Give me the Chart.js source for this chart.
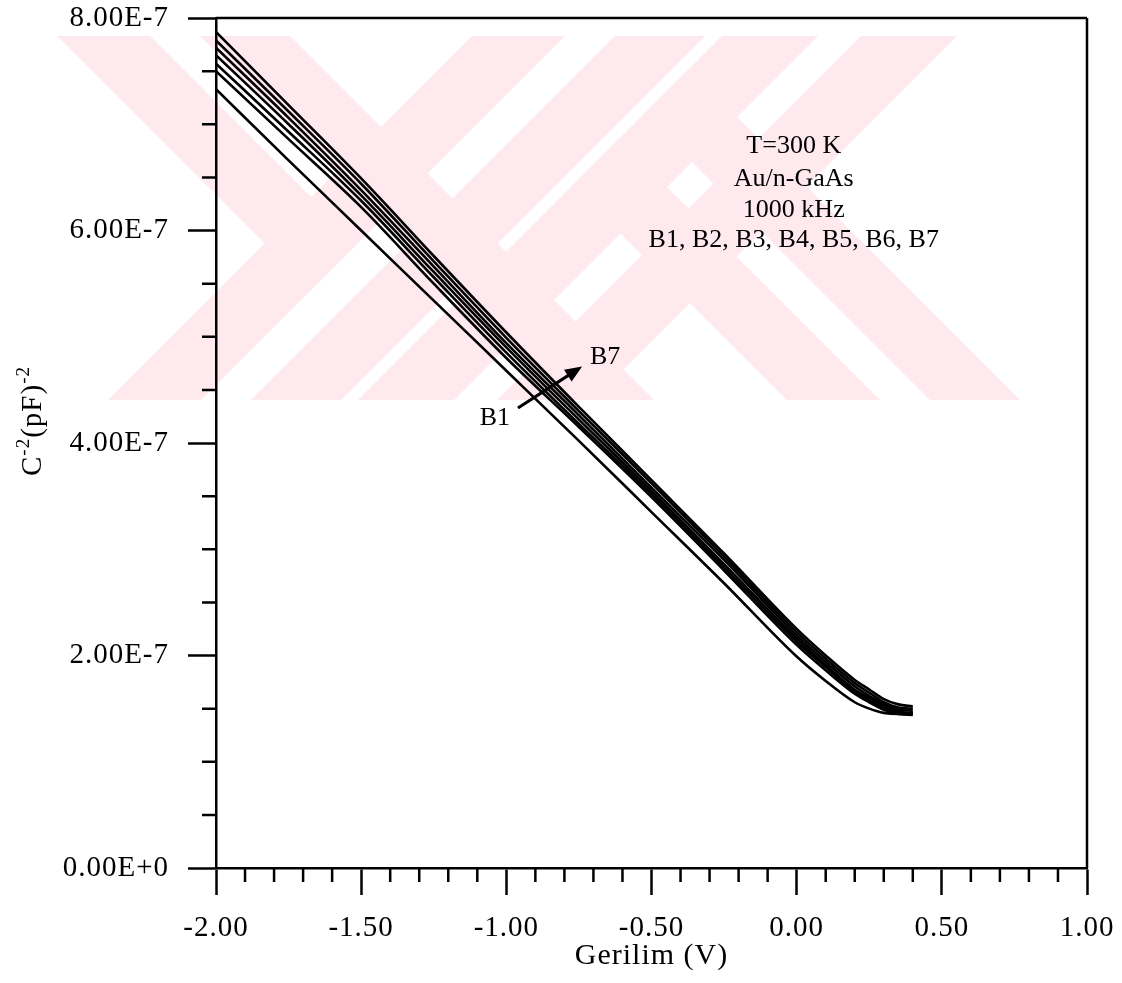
<!DOCTYPE html>
<html><head><meta charset="utf-8">
<script src="https://cdn.jsdelivr.net/npm/chart.js@4.4.1/dist/chart.umd.min.js"></script>
<style>html,body{margin:0;padding:0;background:#fff}canvas{display:block}</style>
</head><body>
<canvas id="c" width="1122" height="983"></canvas>
<script>
// ---- data ----
const voltage = [-2.00,-1.75,-1.50,-1.25,-1.00,-0.75,-0.50,-0.25,0.00,0.10,0.20,0.25,0.30,0.35,0.40];
const B1 = [7.33e-7,6.66e-7,6.00e-7,5.34e-7,4.68e-7,4.02e-7,3.35e-7,2.68e-7,1.99e-7,1.76e-7,1.56e-7,1.50e-7,1.46e-7,1.45e-7,1.46e-7];
const B2 = [7.50e-7,6.86e-7,6.22e-7,5.50e-7,4.80e-7,4.15e-7,3.49e-7,2.80e-7,2.10e-7,1.86e-7,1.64e-7,1.56e-7,1.49e-7,1.45e-7,1.44e-7];
const B3 = [7.57e-7,6.93e-7,6.28e-7,5.56e-7,4.85e-7,4.18e-7,3.52e-7,2.83e-7,2.13e-7,1.89e-7,1.66e-7,1.58e-7,1.50e-7,1.46e-7,1.45e-7];
const B4 = [7.65e-7,7.00e-7,6.33e-7,5.61e-7,4.90e-7,4.22e-7,3.55e-7,2.86e-7,2.16e-7,1.91e-7,1.68e-7,1.60e-7,1.52e-7,1.47e-7,1.46e-7];
const B5 = [7.72e-7,7.06e-7,6.38e-7,5.66e-7,4.94e-7,4.26e-7,3.58e-7,2.90e-7,2.19e-7,1.94e-7,1.71e-7,1.62e-7,1.54e-7,1.49e-7,1.48e-7];
const B6 = [7.79e-7,7.12e-7,6.44e-7,5.71e-7,4.99e-7,4.30e-7,3.62e-7,2.93e-7,2.22e-7,1.97e-7,1.74e-7,1.65e-7,1.56e-7,1.51e-7,1.50e-7];
const B7 = [7.87e-7,7.18e-7,6.49e-7,5.76e-7,5.04e-7,4.34e-7,3.65e-7,2.96e-7,2.25e-7,2.00e-7,1.77e-7,1.68e-7,1.59e-7,1.54e-7,1.52e-7];
const seriesNames = ['B1','B2','B3','B4','B5','B6','B7'];
const seriesValues = [B1,B2,B3,B4,B5,B6,B7];

const xTickLabels = ['-2.00','-1.50','-1.00','-0.50','0.00','0.50','1.00'];
const yTickLabels = ['0.00E+0','2.00E-7','4.00E-7','6.00E-7','8.00E-7'];
const xMinorTicks = [-1.9,-1.8,-1.7,-1.6,-1.4,-1.3,-1.2,-1.1,-0.9,-0.8,-0.7,-0.6,-0.4,-0.3,-0.2,-0.1,0.1,0.2,0.3,0.4,0.6,0.7,0.8,0.9];
const yMinorTicks = [0.5e-7,1.0e-7,1.5e-7,2.5e-7,3.0e-7,3.5e-7,4.5e-7,5.0e-7,5.5e-7,6.5e-7,7.0e-7,7.5e-7];

const xTitle = 'Gerilim (V)';
const yTitleParts = [['C',false],['-2',true],['(pF)',false],['-2',true]];
const infoLines = ['T=300 K','Au/n-GaAs','1000 kHz','B1, B2, B3, B4, B5, B6, B7'];
const infoX = -0.01;
const infoY = [6.79e-7,6.48e-7,6.19e-7,5.91e-7];
const arrowFrom = {x:-0.96, y:4.33e-7};
const arrowTo = {x:-0.739, y:4.72e-7};
const labelB7 = {text:'B7', x:-0.712, y:4.81e-7};
const labelB1 = {text:'B1', x:-0.987, y:4.235e-7};

const SERIF = '"Liberation Serif", "Times New Roman", serif';
const SPACING = '1px';

// ---- page watermark (decorative background, page pixels) ----
const WM_COLOR = '#fde9ee';
const WM_BAND = [36, 400];
const WM_SHAPES = [
  [[57,36],[150,36],[357.5,243.5],[311,290]],
  [[200,36],[290,36],[654,400],[564,400]],
  [[472,36],[565,36],[201,400],[108,400]],
  [[615,36],[705,36],[341,400],[251,400]],
  [[722,36],[818,36],[454,400],[358,400]],
  [[861,36],[957,36],[593,400],[497,400]],
  [[572.5,185.5],[619,139],[880,400],[787,400]],
  [[644,114],[689,69],[1020,400],[930,400]]
];

// ---- plugins ----
const watermark = {
  id:'watermark',
  beforeDraw(chart){
    const ctx = chart.ctx;
    ctx.save();
    ctx.beginPath(); ctx.rect(0,WM_BAND[0],chart.width,WM_BAND[1]-WM_BAND[0]); ctx.clip();
    ctx.fillStyle = WM_COLOR;
    WM_SHAPES.forEach(p=>{ctx.beginPath(); p.forEach(([a,b],i)=> i?ctx.lineTo(a,b):ctx.moveTo(a,b)); ctx.closePath(); ctx.fill();});
    ctx.restore();
  }
};

const spacingPlugin = {
  id:'spacing',
  beforeLayout(chart){ chart.ctx.letterSpacing = SPACING; },
  beforeDraw(chart){ chart.ctx.letterSpacing = SPACING; }
};

const frameAndExtras = {
  id:'frameAndExtras',
  afterDraw(chart){
    const {ctx, chartArea:ca, scales:{x,y}} = chart;
    ctx.save();
    ctx.strokeStyle = '#000';
    ctx.fillStyle = '#000';
    ctx.lineWidth = 2.5;
    ctx.lineCap = 'butt';
    ctx.beginPath();
    ctx.moveTo(ca.left, ca.top); ctx.lineTo(ca.right, ca.top);
    ctx.moveTo(ca.right, ca.top); ctx.lineTo(ca.right, ca.bottom);
    ctx.stroke();
    ctx.beginPath();
    xMinorTicks.forEach(v=>{const px=x.getPixelForValue(v); ctx.moveTo(px, ca.bottom); ctx.lineTo(px, ca.bottom+14);});
    yMinorTicks.forEach(v=>{const py=y.getPixelForValue(v); ctx.moveTo(ca.left, py); ctx.lineTo(ca.left-14, py);});
    ctx.stroke();

    // y axis title with superscripts
    ctx.save();
    ctx.letterSpacing = SPACING;
    ctx.translate(31, (ca.top+ca.bottom)/2 - 22);
    ctx.rotate(-Math.PI/2);
    ctx.textBaseline = 'alphabetic';
    ctx.textAlign = 'left';
    const big = '29px ' + SERIF, small = '19px ' + SERIF;
    let total = 0;
    yTitleParts.forEach(([t,sup])=>{ctx.font = sup?small:big; total += ctx.measureText(t).width;});
    let cx = -total/2;
    yTitleParts.forEach(([t,sup])=>{ctx.font = sup?small:big; ctx.fillText(t, cx, sup? -2 : 10); cx += ctx.measureText(t).width;});
    ctx.restore();

    // info text
    ctx.letterSpacing = '0px';
    ctx.font = '26px ' + SERIF;
    ctx.textAlign = 'center';
    ctx.textBaseline = 'middle';
    infoLines.forEach((t,i)=>ctx.fillText(t, x.getPixelForValue(infoX), y.getPixelForValue(infoY[i])));

    // arrow
    const x0=x.getPixelForValue(arrowFrom.x), y0=y.getPixelForValue(arrowFrom.y);
    const x1=x.getPixelForValue(arrowTo.x), y1=y.getPixelForValue(arrowTo.y);
    const ang=Math.atan2(y1-y0,x1-x0);
    const hl=17, hw=7;
    ctx.lineWidth=3;
    ctx.beginPath(); ctx.moveTo(x0,y0); ctx.lineTo(x1-hl*Math.cos(ang)*0.8, y1-hl*Math.sin(ang)*0.8); ctx.stroke();
    ctx.beginPath();
    ctx.moveTo(x1,y1);
    ctx.lineTo(x1-hl*Math.cos(ang)+hw*Math.sin(ang), y1-hl*Math.sin(ang)-hw*Math.cos(ang));
    ctx.lineTo(x1-hl*Math.cos(ang)-hw*Math.sin(ang), y1-hl*Math.sin(ang)+hw*Math.cos(ang));
    ctx.closePath(); ctx.fill();

    ctx.font = '26px ' + SERIF;
    ctx.textAlign='left';
    ctx.fillText(labelB7.text, x.getPixelForValue(labelB7.x), y.getPixelForValue(labelB7.y));
    ctx.textAlign='right';
    ctx.fillText(labelB1.text, x.getPixelForValue(labelB1.x), y.getPixelForValue(labelB1.y));
    ctx.restore();
  }
};

const datasets = seriesValues.map((vals,i)=>({
  label: seriesNames[i],
  data: voltage.map((v,j)=>({x:v, y:vals[j]})),
  borderColor:'#000',
  backgroundColor:'#000',
  borderWidth:2.6,
  pointRadius:0,
  fill:false,
  cubicInterpolationMode:'monotone'
}));

new Chart(document.getElementById('c'), {
  type:'line',
  data:{datasets},
  options:{
    responsive:false,
    animation:false,
    devicePixelRatio:1,
    layout:{padding:{top:18,right:35,left:0,bottom:0}},
    plugins:{legend:{display:false}, tooltip:{enabled:false}},
    scales:{
      x:{
        type:'linear', min:-2, max:1,
        afterFit(s){ s.height = 115; s.paddingLeft = 0; s.paddingRight = 0; },
        ticks:{stepSize:0.5, color:'#000', padding:16, maxRotation:0, autoSkip:false,
          font:{family:SERIF, size:29},
          callback:(v,i)=>xTickLabels[i]},
        grid:{display:true, drawOnChartArea:false, drawTicks:true, tickLength:27, tickColor:'#000', tickWidth:2.5},
        border:{display:true, color:'#000', width:2.5},
        title:{display:true, text:xTitle, color:'#000', font:{family:SERIF, size:30}, padding:{top:0,bottom:9}}
      },
      y:{
        type:'linear', min:0, max:8e-7,
        afterFit(s){ s.width = 216; s.paddingTop = 0; s.paddingBottom = 0; },
        ticks:{stepSize:2e-7, color:'#000', padding:19, autoSkip:false,
          font:{family:SERIF, size:29},
          callback:(v,i)=>yTickLabels[i]},
        grid:{display:true, drawOnChartArea:false, drawTicks:true, tickLength:28, tickColor:'#000', tickWidth:2.5},
        border:{display:true, color:'#000', width:2.5},
        title:{display:false}
      }
    }
  },
  plugins:[spacingPlugin, watermark, frameAndExtras]
});
</script>
</body></html>
